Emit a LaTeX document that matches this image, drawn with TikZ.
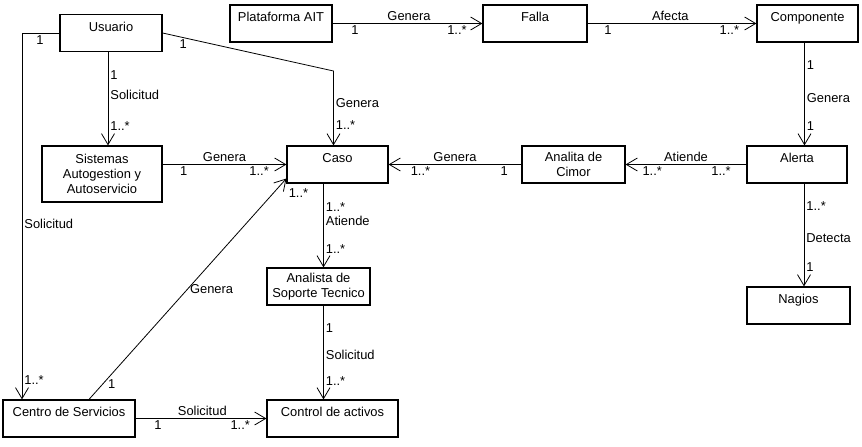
\documentclass[tikz,border=0pt]{standalone}
\usepackage{fontspec}
\setmainfont{Liberation Sans}
\usetikzlibrary{arrows.meta}
\tikzset{
	clase/.style={draw, line width=1.2pt, minimum width=102pt, minimum height=37pt, align=center, inner sep=2pt, font=\fontsize{12.9}{15}\selectfont},
	una/.style={text height=9pt, text depth=13pt},
	lab/.style={inner sep=2pt, font=\fontsize{12.9}{15}\selectfont},
	rel/.style={line width=0.8pt, -{Straight Barb[length=11pt,width=13pt]}, nodes={lab}}
}
\begin{document}
\begin{tikzpicture}[x=1pt,y=-1pt]
			\useasboundingbox (0,0) rectangle (862,447);
			\node[clase,una] (usuario) at (111,33) {Usuario};
			\node[clase,una] (plataforma) at (281,23.5) {Plataforma AIT};
			\node[clase,una,minimum width=104pt] (falla) at (535,23.5) {Falla};
			\node[clase,una,minimum width=101pt] (componente) at (807.5,23.5) {Componente};
			\node[clase,minimum width=120pt,minimum height=56pt] (sistemas) at (102,174) {Sistemas\\Autogestion y\\Autoservicio};
			\node[clase,una,minimum width=101pt] (caso) at (337.5,164.5) {Caso};
			\node[clase,minimum width=103pt] (analita) at (573.5,164.5) {Analita de\\Cimor};
			\node[clase,una,minimum width=100pt] (alerta) at (797,164.5) {Alerta};
			\node[clase,una,minimum width=103pt] (nagios) at (798.5,305.5) {Nagios};
			\node[clase,minimum width=103pt] (analista) at (318.5,286.5) {Analista de\\Soporte Tecnico};
			\node[clase,una,minimum width=132pt] (centro) at (69,418.5) {Centro de Servicios};
			\node[clase,una,minimum width=131pt] (control) at (332.5,418.5) {Control de activos};
			\coordinate (quiebre) at (333.5,71);
			\draw[rel] ([xshift=-3pt]usuario.south) -- node[pos=.25,right]{1} node[pos=.46,right]{Solicitud} node[pos=.79,right]{1..*} ([xshift=6pt]sistemas.north);
			\draw[rel] (usuario.east) -- node[pos=.12,below]{1} (quiebre) -- node[pos=.43,right]{Genera} node[pos=.72,right]{1..*} (quiebre |- caso.north);
			\draw[rel] (usuario.west) -| node[pos=.26,below]{1} node[pos=.76,right]{Solicitud} node[pos=.974,right]{1..*} ([xshift=-47pt]centro.north);
			\draw[rel] (sistemas.east |- caso.west) -- node[pos=.5,above]{Genera} node[pos=.17,below]{1} node[pos=.78,below]{1..*} (caso.west);
			\draw[rel] (plataforma) -- node[pos=.51,above]{Genera} node[pos=.15,below]{1} node[pos=.83,below]{1..*} (falla);
			\draw[rel] (falla) -- node[pos=.49,above]{Afecta} node[pos=.12,below]{1} node[pos=.84,below]{1..*} (componente);
			\draw[rel] ([xshift=-3pt]componente.south) -- node[pos=.22,right]{1} node[pos=.54,right]{Genera} node[pos=.81,right]{1} ([xshift=7.5pt]alerta.north);
			\draw[rel] (alerta) -- node[pos=.5,above]{Atiende} node[pos=.21,below]{1..*} node[pos=.78,below]{1..*} (analita);
			\draw[rel] (analita) -- node[pos=.5,above]{Genera} node[pos=.13,below]{1} node[pos=.76,below]{1..*} (caso);
			\draw[rel] ([xshift=7pt]alerta.south) -- node[pos=.22,right]{1..*} node[pos=.53,right]{Detecta} node[pos=.81,right]{1} ([xshift=5.5pt]nagios.north);
			\draw[rel] ([xshift=-14pt]caso.south) -- node[pos=.28,right]{1..*} node[pos=.45,right]{Atiende} node[pos=.78,right]{1..*} ([xshift=5pt]analista.north);
			\draw[rel] ([xshift=5pt]analista.south) -- node[pos=.24,right]{1} node[pos=.53,right]{Solicitud} node[pos=.8,right]{1..*} ([xshift=-9pt]control.north);
			\draw[rel] (centro) -- node[pos=.51,above]{Solicitud} node[pos=.17,below]{1} node[pos=.8,below]{1..*} (control);
			\draw[rel] ([xshift=20pt]centro.north) -- node[pos=.07,right=3pt]{1} node[pos=.5,right]{Genera} node[pos=1,anchor=north west,yshift=-8pt]{1..*} ([yshift=-14pt]caso.west);
		\end{tikzpicture}
\end{document}
